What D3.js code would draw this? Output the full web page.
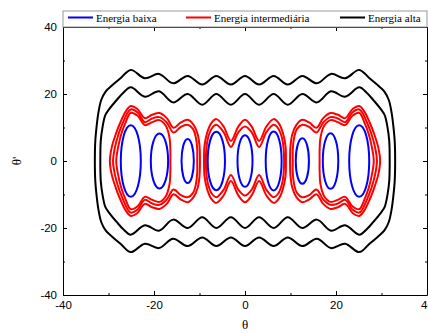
<!DOCTYPE html>
<html>
<head>
<meta charset="utf-8">
<script src="https://cdn.jsdelivr.net/npm/d3@7"></script>
<style>
  body { margin: 0; background: #fff; }
  text { fill: #000; }
</style>
</head>
<body>
<svg id="chart" width="428" height="333"></svg>
<script>
// axis ticks
const majorTicks = [-40, -20, 0, 20, 40];
const minorTicks = [-30, -10, 10, 30];

// low energy: one small orbit in each well
const wellCenters = [-25.1, -18.8, -12.6, -6.3, 0, 6.3, 12.6, 18.8, 25.1];
const orbitHalfWidth = [2.2, 1.9, 1.35, 1.9, 1.65, 1.75, 1.45, 1.7, 2.2];
const orbitHalfHeight = [10.7, 8.2, 6.6, 8.7, 7.7, 8.8, 6.8, 8.3, 10.7];

// intermediate energy: upper halves [theta, theta'] (curves are symmetric about theta' = 0)
// outer red, split in three groups of wells
const redOuterLeftTop = [
  [-29.7, 0], [-29.3, 4], [-28.4, 8], [-27.4, 11.5], [-26.2, 14.8], [-25.1, 16.4], [-23.7, 15.6],
  [-22, 12.8], [-20.4, 13.8], [-18.8, 14.3], [-17.2, 12.8], [-15.7, 9.9], [-14.1, 11.5],
  [-12.6, 12.3], [-11.3, 10.8], [-10.4, 8], [-10.0, 4.5], [-9.9, 0]
];
const redOuterMidTop = [
  [-9.0, 0], [-8.9, 4.5], [-8.3, 8.5], [-7.4, 11.3], [-6.3, 12.5], [-4.7, 10.3], [-3.1, 6],
  [-1.5, 10.2], [0, 12.3], [1.5, 10.2], [3.1, 6], [4.7, 10.3], [6.3, 12.5], [7.4, 11.3],
  [8.3, 8.5], [8.9, 4.5], [9.0, 0]
];
const redOuterRightTop = [
  [9.9, 0], [10.0, 4.5], [10.4, 8], [11.3, 10.8], [12.6, 12.3], [14.1, 11.5], [15.7, 9.9],
  [17.2, 12.8], [18.8, 14.3], [20.4, 13.8], [22, 12.8], [23.7, 15.6], [25.1, 16.4], [26.2, 14.8],
  [27.4, 11.5], [28.4, 8], [29.3, 4], [29.7, 0]
];
// middle red
const redMiddleLeftTop = [
  [-29.0, 0], [-28.6, 4], [-27.8, 8], [-26.8, 11.5], [-25.9, 14.2], [-25.1, 15.4], [-23.6, 14.5],
  [-22, 11.6], [-20.4, 12.7], [-18.8, 13.1], [-17.2, 11.5], [-15.7, 8.5], [-14.1, 10.2],
  [-12.6, 10.8], [-11.4, 9.5], [-10.8, 7], [-10.5, 3.5], [-10.5, 0]
];
const redMiddleMidTop = [
  [-8.6, 0], [-8.5, 3.5], [-8.1, 7], [-7.3, 9.7], [-6.3, 10.8], [-4.7, 8.6], [-3.1, 4.2],
  [-1.5, 8.5], [0, 10.3], [1.5, 8.5], [3.1, 4.2], [4.7, 8.6], [6.3, 10.8], [7.3, 9.7],
  [8.1, 7], [8.5, 3.5], [8.6, 0]
];
const redMiddleRightTop = [
  [10.5, 0], [10.5, 3.5], [10.8, 7], [11.4, 9.5], [12.6, 10.8], [14.1, 10.2], [15.7, 8.5],
  [17.2, 11.5], [18.8, 13.1], [20.4, 12.7], [22, 11.6], [23.6, 14.5], [25.1, 15.4], [25.9, 14.2],
  [26.8, 11.5], [27.8, 8], [28.6, 4], [29.0, 0]
];
// inner red, only around the two outer wells on each side
const redInnerLeftTop = [
  [-28.3, 0], [-27.9, 4], [-27.2, 8], [-26.3, 11.3], [-25.1, 14.4], [-23.6, 13.5], [-22, 10.7],
  [-20.4, 11.6], [-18.8, 12.2], [-17.4, 10.5], [-16.6, 7], [-16.4, 3], [-16.4, 0]
];
const redInnerRightTop = [
  [16.4, 0], [16.4, 3], [16.6, 7], [17.4, 10.5], [18.8, 12.2], [20.4, 11.6], [22, 10.7],
  [23.6, 13.5], [25.1, 14.4], [26.3, 11.3], [27.2, 8], [27.9, 4], [28.3, 0]
];

// high energy
const blackOuterTop = [
  [-33.0, 0], [-32.9, 6], [-32.6, 10.5], [-32.2, 14.6], [-31.6, 18.2], [-30.6, 20.8],
  [-29.2, 22.6], [-27.3, 24.8], [-25.1, 27.2], [-22.0, 24.7], [-18.9, 26.0], [-15.8, 23.2],
  [-12.6, 25.4], [-9.4, 22.8], [-6.3, 25.4], [-3.1, 22.8], [0, 25.4], [3.1, 22.8], [6.3, 25.4],
  [9.4, 22.8], [12.6, 25.4], [15.8, 23.2], [18.9, 26.0], [22.0, 24.7], [25.1, 27.2],
  [27.3, 24.8], [29.2, 22.6], [30.6, 20.8], [31.6, 18.2], [32.2, 14.6], [32.6, 10.5],
  [32.9, 6], [33.0, 0]
];
const blackInnerTop = [
  [-31.8, 0], [-31.7, 6], [-31.3, 10.2], [-30.7, 13.7], [-29.9, 15.4], [-28.2, 18.2],
  [-26.8, 20.3], [-25.1, 22.0], [-22.0, 19.2], [-18.9, 20.8], [-15.8, 17.5], [-12.6, 20.0],
  [-9.4, 16.8], [-6.3, 20.0], [-3.1, 16.8], [0, 20.0], [3.1, 16.8], [6.3, 20.0], [9.4, 16.8],
  [12.6, 20.0], [15.8, 17.5], [18.9, 20.8], [22.0, 19.2], [25.1, 22.0], [26.8, 20.3],
  [28.2, 18.2], [29.9, 15.4], [30.7, 13.7], [31.3, 10.2], [31.7, 6], [31.8, 0]
];

const legendNames = ["Energia baixa", "Energia intermediária", "Energia alta"];
const legendColors = ["#0000ff", "#ff0000", "#000000"];

const svg = d3.select("#chart");
const margin = { top: 27, right: 1, bottom: 38, left: 63 };
const W = 428, H = 333;

const x = d3.scaleLinear().domain([-40, 40]).range([margin.left, W - margin.right]);
const y = d3.scaleLinear().domain([-40, 40]).range([H - margin.bottom, margin.top]);

// full closed loop from an upper half
function closeLoop(top) {
  const bottom = top.slice(1, -1).reverse().map(d => [d[0], -d[1]]);
  return top.concat(bottom);
}

const loop = d3.line()
  .x(d => x(d[0]))
  .y(d => y(d[1]))
  .curve(d3.curveCatmullRomClosed.alpha(0.5));

const plot = svg.append("g");

// black curves
[blackOuterTop, blackInnerTop].forEach(c => {
  plot.append("path").attr("d", loop(closeLoop(c)))
    .attr("fill", "none").attr("stroke", "#000").attr("stroke-width", 2);
});

// red curves
[redOuterLeftTop, redOuterMidTop, redOuterRightTop,
 redMiddleLeftTop, redMiddleMidTop, redMiddleRightTop,
 redInnerLeftTop, redInnerRightTop].forEach(c => {
  plot.append("path").attr("d", loop(closeLoop(c)))
    .attr("fill", "none").attr("stroke", "#ff0000").attr("stroke-width", 2);
});

// blue orbits
plot.selectAll("ellipse.low")
  .data(wellCenters)
  .enter().append("ellipse")
  .attr("class", "low")
  .attr("cx", d => x(d))
  .attr("cy", y(0))
  .attr("rx", (d, i) => x(orbitHalfWidth[i]) - x(0))
  .attr("ry", (d, i) => y(0) - y(orbitHalfHeight[i]))
  .attr("fill", "none").attr("stroke", "#0000ff").attr("stroke-width", 2);

// axes
const tickFont = "'Liberation Sans', Arial, sans-serif";
const fmt = d => String(d);
const xAxis = svg.append("g").attr("transform", `translate(0,${y(-40)})`)
  .call(d3.axisBottom(x).tickValues(majorTicks).tickSizeInner(-4).tickSizeOuter(0).tickPadding(6).tickFormat(fmt));
xAxis.selectAll("text").style("font-family", tickFont).style("font-size", "11.5px");
svg.append("g").attr("transform", `translate(0,${y(-40)})`)
  .call(d3.axisBottom(x).tickValues(minorTicks).tickSize(-2).tickFormat(""))
  .select(".domain").remove();

const yAxis = svg.append("g").attr("transform", `translate(${x(-40)},0)`)
  .call(d3.axisLeft(y).tickValues(majorTicks).tickSizeInner(-4).tickSizeOuter(0).tickPadding(6).tickFormat(fmt));
yAxis.selectAll("text").style("font-family", tickFont).style("font-size", "11.5px");
svg.append("g").attr("transform", `translate(${x(-40)},0)`)
  .call(d3.axisLeft(y).tickValues(minorTicks).tickSize(-2).tickFormat(""))
  .select(".domain").remove();

// top and right frame with inward ticks
svg.append("g").attr("transform", `translate(0,${y(40)})`)
  .call(d3.axisTop(x).tickValues(majorTicks).tickSizeInner(-4).tickSizeOuter(0).tickFormat(""));
svg.append("g").attr("transform", `translate(0,${y(40)})`)
  .call(d3.axisTop(x).tickValues(minorTicks).tickSize(-2).tickFormat(""))
  .select(".domain").remove();
svg.append("g").attr("transform", `translate(${x(40)},0)`)
  .call(d3.axisRight(y).tickValues(majorTicks).tickSizeInner(-4).tickSizeOuter(0).tickFormat(""));
svg.append("g").attr("transform", `translate(${x(40)},0)`)
  .call(d3.axisRight(y).tickValues(minorTicks).tickSize(-2).tickFormat(""))
  .select(".domain").remove();

// axis titles
const serif = "'Liberation Serif', 'Times New Roman', serif";
svg.append("text")
  .attr("x", x(0)).attr("y", 329)
  .attr("text-anchor", "middle")
  .style("font-family", serif).style("font-size", "13px")
  .text("θ");
svg.append("text")
  .attr("transform", `translate(21,${y(0)}) rotate(-90)`)
  .attr("text-anchor", "middle")
  .style("font-family", serif).style("font-size", "13px")
  .text("θ'");

// legend
const legend = svg.append("g");
legend.append("rect")
  .attr("x", x(-40)).attr("y", 11)
  .attr("width", x(40) - x(-40)).attr("height", y(40) - 11)
  .attr("fill", "#fff").attr("stroke", "#999").attr("stroke-width", 1);
const legendX = [68, 186, 340];
legendNames.forEach((name, i) => {
  legend.append("line")
    .attr("x1", legendX[i]).attr("x2", legendX[i] + 25)
    .attr("y1", 17.5).attr("y2", 17.5)
    .attr("stroke", legendColors[i]).attr("stroke-width", 2);
  legend.append("text")
    .attr("x", legendX[i] + 28).attr("y", 21.5)
    .style("font-family", serif).style("font-size", "11px")
    .text(name);
});
</script>
</body>
</html>
